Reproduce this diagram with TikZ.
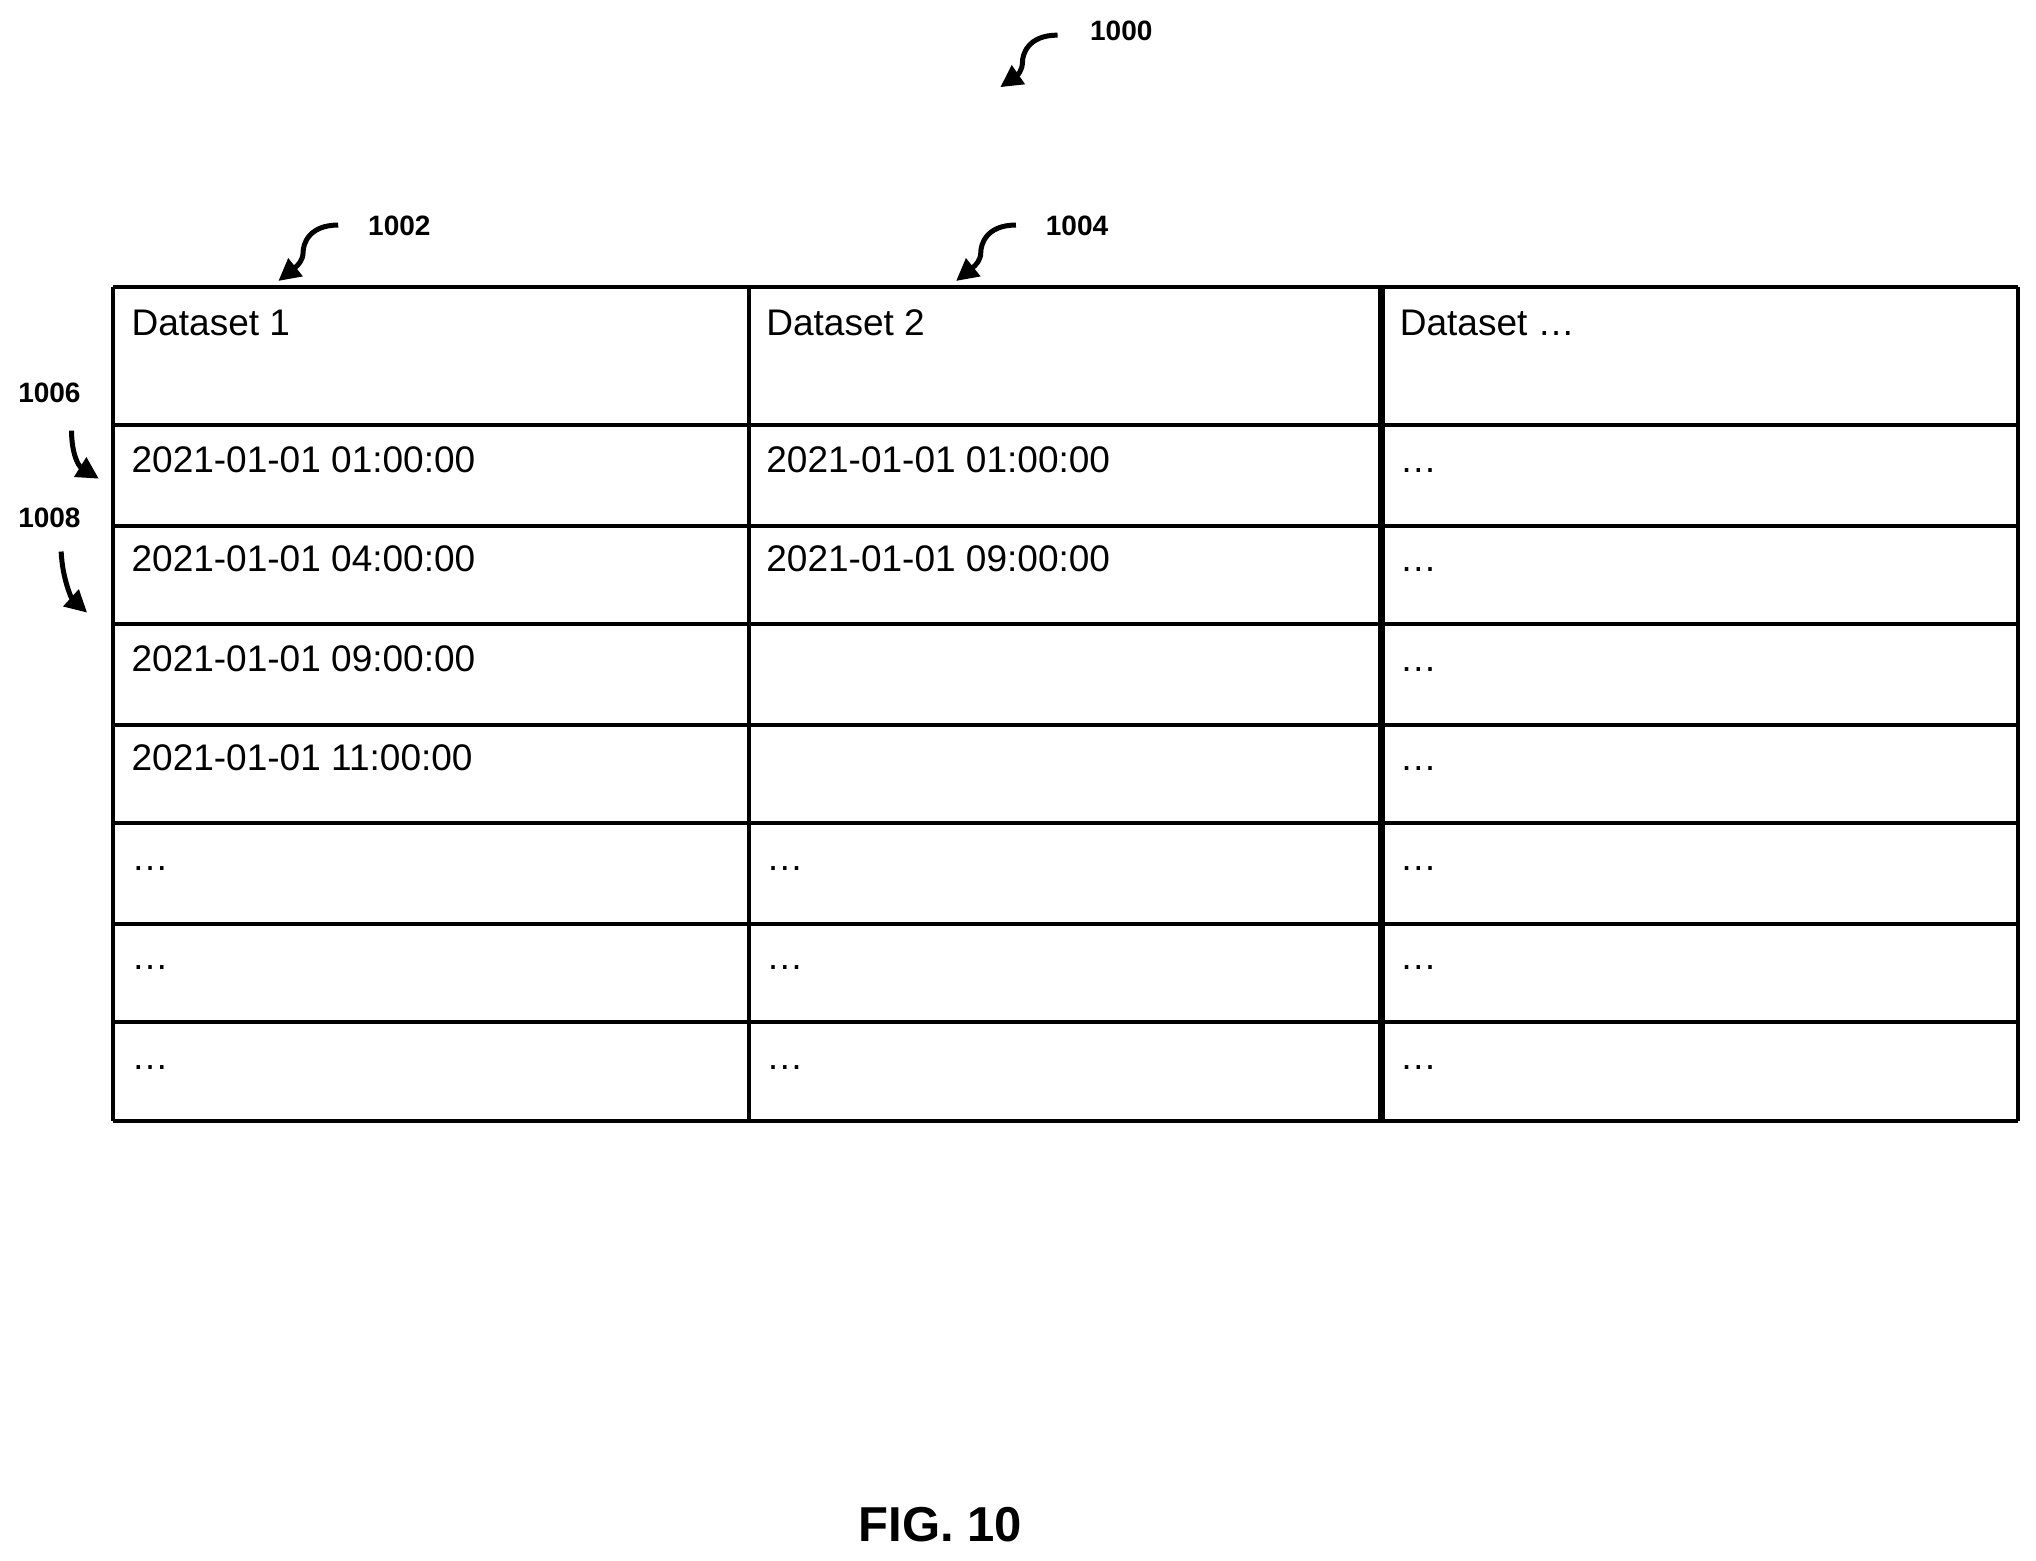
\documentclass[tikz,border=0pt]{standalone}
\usepackage{fontspec}
\setmainfont{Liberation Sans}
\usetikzlibrary{arrows.meta}
\begin{document}
\begin{tikzpicture}[x=1.3pt,y=-1.3pt,
  grid/.style={line width=4pt},
  cell/.style={anchor=base west,inner sep=0pt,font=\fontsize{37}{40}\selectfont},
  lbl/.style={inner sep=0pt,font=\fontsize{28}{30}\selectfont\bfseries},
  ref/.style={line width=5pt,-{Triangle[length=22pt,width=22pt]}}]
\useasboundingbox (0,0) rectangle (1565.2,1200);
% grid
\foreach \y in {221,327,404,480,557,633,710,786,862} \draw[grid] (87,\y) -- (1551,\y);
\foreach \x in {87,576,1551} \draw[grid] (\x,221) -- (\x,862);
\draw[line width=7pt] (1062,221) -- (1062,862);
% texts
\node[cell] (h1) at (101,258) {Dataset 1};
\node[cell] (h2) at (589,258) {Dataset 2};
\node[cell] (h3) at (1076,258) {Dataset \dots};
\node[cell] (a1) at (101,363) {2021-01-01 01:00:00};
\node[cell] (b1) at (589,363) {2021-01-01 01:00:00};
\node[cell] (c1) at (1076,363) {\dots};
\node[cell] (a2) at (101,439) {2021-01-01 04:00:00};
\node[cell] (b2) at (589,439) {2021-01-01 09:00:00};
\node[cell] (c2) at (1076,439) {\dots};
\node[cell] (a3) at (101,516) {2021-01-01 09:00:00};
\node[cell] (c3) at (1076,516) {\dots};
\node[cell] (a4) at (101,592) {2021-01-01 11:00:00};
\node[cell] (c4) at (1076,592) {\dots};
\foreach \y/\n in {669/5,745/6,822/7}{
  \node[cell] (a\n) at (101,\y) {\dots};
  \node[cell] (b\n) at (589,\y) {\dots};
  \node[cell] (c\n) at (1076,\y) {\dots};
}
% labels
\node[lbl] (l1000) at (862,24) {1000};
\node[lbl] (l1002) at (307,174) {1002};
\node[lbl] (l1004) at (828,174) {1004};
\node[lbl] (l1006) at (38,302) {1006};
\node[lbl] (l1008) at (38,398) {1008};
\node[inner sep=0pt,font=\fontsize{49}{52}\selectfont\bfseries] (fig) at (723,1172) {FIG. 10};
% arrows
\coordinate (s0) at (813,27); \coordinate (t0) at (769,67);
\coordinate (s2) at (260,173); \coordinate (t2) at (214,216);
\coordinate (s4) at (781,173); \coordinate (t4) at (735,216);
\coordinate (s6) at (55,331); \coordinate (t6) at (76,368);
\coordinate (s8) at (47,424); \coordinate (t8) at (67,471);
\draw[ref] (s0) .. controls (790,27) and (786,42) .. (786,48) .. controls (786,54) and (782,58) .. (t0);
\draw[ref] (s2) .. controls (237,173) and (233,188) .. (233,194) .. controls (233,200) and (229,204) .. (t2);
\draw[ref] (s4) .. controls (758,173) and (754,188) .. (754,194) .. controls (754,200) and (750,204) .. (t4);
\draw[ref] (s6) .. controls (55,348) and (60,358) .. (t6);
\draw[ref] (s8) .. controls (48,445) and (55,460) .. (t8);
\end{tikzpicture}
\end{document}
